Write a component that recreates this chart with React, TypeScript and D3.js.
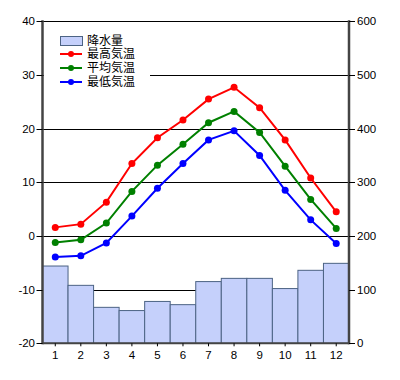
import React from "react";
import * as d3 from "d3";

const months = [1, 2, 3, 4, 5, 6, 7, 8, 9, 10, 11, 12];
const precipitation = [144, 108, 67, 61, 78, 72, 115, 121, 121, 102, 136, 149];
const maxTemp = [1.6, 2.2, 6.3, 13.5, 18.3, 21.6, 25.5, 27.7, 23.9, 17.9, 10.8, 4.5];
const meanTemp = [-1.2, -0.7, 2.4, 8.3, 13.2, 17.1, 21.1, 23.2, 19.3, 13.0, 6.8, 1.4];
const minTemp = [-3.9, -3.7, -1.3, 3.7, 8.9, 13.5, 17.9, 19.6, 15.0, 8.5, 3.0, -1.4];
const leftTicks = [-20, -10, 0, 10, 20, 30, 40];
const rightTicks = [0, 100, 200, 300, 400, 500, 600];

const series = [
  { name: "最高気温", values: maxTemp, color: "#ff0000" },
  { name: "平均気温", values: meanTemp, color: "#008000" },
  { name: "最低気温", values: minTemp, color: "#0000ff" },
];

export default function App() {
  const W = 400, H = 380;
  const x0 = 42.5, x1 = 349, yTop = 21.3, yBot = 343.3;
  const x = d3.scaleBand<number>().domain(months).range([x0, x1]).padding(0);
  const yL = d3.scaleLinear().domain([-20, 40]).range([yBot, yTop]);
  const yR = d3.scaleLinear().domain([0, 600]).range([yBot, yTop]);
  const cx = (m: number) => (x(m) as number) + x.bandwidth() / 2;
  const font = "'Liberation Sans', Arial, sans-serif";
  const cjk = "'Noto Sans CJK JP', sans-serif";

  return (
    <svg width={W} height={H} style={{ position: "absolute", left: 0, top: 0, background: "#fff" }}>
      {/* gridlines */}
      {leftTicks.filter((t) => t > -20).map((t) => (
        <line key={"g" + t} x1={x0} x2={x1} y1={Math.round(yL(t)) + 0.5} y2={Math.round(yL(t)) + 0.5} stroke="#000" strokeWidth={1} />
      ))}
      {/* bars */}
      {months.map((m, i) => (
        <rect key={"b" + m} x={x(m) as number} y={yR(precipitation[i])} width={x.bandwidth()} height={yBot - yR(precipitation[i])}
          fill="#c5d0fb" stroke="#4c6384" strokeWidth={1} />
      ))}
      {/* legend background */}
      <rect x={44} y={28} width={106} height={62} fill="#fff" />
      {/* lines */}
      {series.map((s) => {
        const line = d3.line<number>().x((_, i) => cx(months[i])).y((v) => yL(v));
        return (
          <g key={s.name}>
            <path d={line(s.values) || ""} fill="none" stroke={s.color} strokeWidth={2} />
            {s.values.map((v, i) => (
              <circle key={i} cx={cx(months[i])} cy={yL(v)} r={3.5} fill={s.color} />
            ))}
          </g>
        );
      })}
      {/* axes */}
      <line x1={x0} x2={x0} y1={yTop - 1} y2={yBot + 1} stroke="#444" strokeWidth={2.5} />
      <line x1={x1} x2={x1} y1={yTop - 1} y2={yBot + 1} stroke="#444" strokeWidth={2.5} />
      <line x1={x0} x2={x1} y1={yBot} y2={yBot} stroke="#444" strokeWidth={2} />
      {leftTicks.map((t) => (
        <g key={"l" + t}>
          <line x1={x0 - 6} x2={x0} y1={Math.round(yL(t)) + 0.5} y2={Math.round(yL(t)) + 0.5} stroke="#000" />
          <text x={35} y={yL(t)} dy="0.35em" textAnchor="end" fontSize={11.5} fontFamily={font}>{t}</text>
        </g>
      ))}
      {rightTicks.map((t) => (
        <g key={"r" + t}>
          <line x1={x1} x2={x1 + 6} y1={Math.round(yR(t)) + 0.5} y2={Math.round(yR(t)) + 0.5} stroke="#000" />
          <text x={357} y={yR(t)} dy="0.35em" textAnchor="start" fontSize={11.5} fontFamily={font}>{t}</text>
        </g>
      ))}
      {months.map((m) => (
        <g key={"x" + m}>
          <line x1={cx(m)} x2={cx(m)} y1={yBot} y2={yBot + 3} stroke="#000" />
          <text x={cx(m)} y={354.5} dy="0.35em" textAnchor="middle" fontSize={11.5} fontFamily={font}>{m}</text>
        </g>
      ))}
      {/* legend */}
      <rect x={60.5} y={36.5} width={22} height={9} fill="#c5d0fb" stroke="#4c6384" />
      <text x={87} y={41} dy="0.35em" fontSize={12} fontFamily={cjk}>降水量</text>
      {series.map((s, i) => {
        const ly = 54 + i * 14;
        return (
          <g key={"lg" + s.name}>
            <line x1={60} x2={82} y1={ly} y2={ly} stroke={s.color} strokeWidth={2} />
            <circle cx={71} cy={ly} r={3} fill={s.color} />
            <text x={87} y={ly} dy="0.35em" fontSize={12} fontFamily={cjk}>{s.name}</text>
          </g>
        );
      })}
    </svg>
  );
}
